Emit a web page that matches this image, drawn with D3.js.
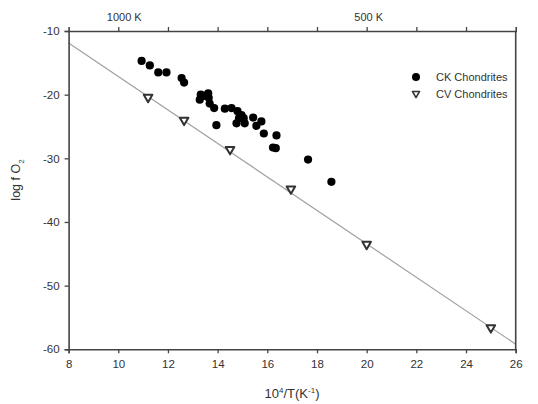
<!DOCTYPE html>
<html>
<head>
<meta charset="utf-8">
<script src="https://cdn.jsdelivr.net/npm/d3@7"></script>
<style>
  html, body { margin: 0; padding: 0; background: #fff; }
  svg { display: block; font-family: "Liberation Sans", Arial, sans-serif; }
</style>
</head>
<body>
<svg id="chart" width="538" height="404"></svg>
<script>
// ---- data ----
const ckX = [10.94, 11.27, 11.61, 11.94, 12.55, 12.65, 13.32, 13.62, 13.28, 13.64, 13.68, 13.86, 13.95, 14.29, 14.56, 14.80, 14.86, 14.76, 14.96, 15.09, 15.43, 15.76, 15.56, 15.86, 16.37, 16.23, 16.34, 17.64, 18.58, 13.45, 15.05];
const ckY = [-14.7, -15.4, -16.5, -16.5, -17.4, -18.1, -20.0, -19.8, -20.8, -20.5, -21.4, -22.1, -24.8, -22.2, -22.1, -22.6, -23.7, -24.5, -23.2, -24.5, -23.6, -24.2, -24.9, -26.1, -26.4, -28.3, -28.4, -30.2, -33.7, -20.2, -23.7];
const cvX = [11.2, 12.65, 14.5, 16.95, 20.0, 25.0];
const cvY = [-20.4, -24.0, -28.6, -34.8, -43.5, -56.6];
const lineX = [8, 26];
const lineY = [-11.9, -59.2];
const xTicks = [8, 10, 12, 14, 16, 18, 20, 22, 24, 26];
const yTicks = [-10, -20, -30, -40, -50, -60];
const topTemps = [1000, 500];
const topTickVals = [10, 12, 14, 16, 18, 20, 22, 24];
const legendLabels = ["CK Chondrites", "CV Chondrites"];

// ---- chart ----
const svg = d3.select("#chart");
const L = 68.6, R = 515.7, T = 31, B = 349.3;
const x = d3.scaleLinear().domain([8, 26]).range([L, R]);
const y = d3.scaleLinear().domain([-60, -10]).range([B, T]);
const axisColor = "#444";
const textColor = "#333";

// regression line
svg.append("line")
  .attr("x1", x(lineX[0])).attr("y1", y(lineY[0]))
  .attr("x2", x(lineX[1])).attr("y2", y(lineY[1]))
  .attr("stroke", "#a0a0a0").attr("stroke-width", 1.2);

// axes
const xAxis = svg.append("g").attr("transform", `translate(0,${B})`)
  .call(d3.axisBottom(x).tickValues(xTicks).tickSize(4).tickPadding(7));
const yAxis = svg.append("g").attr("transform", `translate(${L},0)`)
  .call(d3.axisLeft(y).tickValues(yTicks).tickSize(4).tickPadding(5));
const topAxis = svg.append("g").attr("transform", `translate(0,${T})`)
  .call(d3.axisTop(x).tickValues(topTickVals).tickSize(4).tickFormat(""));
xAxis.selectAll("text").text(d => String(d));
yAxis.selectAll("text").text(d => String(d));
[xAxis, yAxis, topAxis].forEach(g => {
  g.select(".domain").attr("stroke", axisColor).attr("stroke-width", 1.6);
  g.selectAll(".tick line").attr("stroke", axisColor).attr("stroke-width", 1.3);
  g.selectAll("text").attr("fill", textColor).attr("font-size", 11.5)
    .attr("font-family", "Liberation Sans, Arial, sans-serif");
});
// right border
svg.append("line").attr("x1", R).attr("x2", R).attr("y1", T).attr("y2", B)
  .attr("stroke", axisColor).attr("stroke-width", 1.6);

// top temperature labels
svg.selectAll("text.topLab").data(topTemps).enter().append("text")
  .attr("class", "topLab")
  .attr("x", (d, i) => x(1e4 / d) + (i === 0 ? 6 : 2))
  .attr("y", 21)
  .attr("text-anchor", "middle")
  .attr("font-size", 11).attr("fill", textColor)
  .text(d => d + " K");

// CK points
svg.append("g").selectAll("circle").data(ckX).enter().append("circle")
  .attr("cx", d => x(d)).attr("cy", (d, i) => y(ckY[i]))
  .attr("r", 4.1).attr("fill", "#000");

// CV points
const tri = d3.symbol().type(d3.symbolTriangle).size(32);
svg.append("g").selectAll("path").data(cvX).enter().append("path")
  .attr("d", tri)
  .attr("transform", (d, i) => `translate(${x(d)},${y(cvY[i])}) rotate(180)`)
  .attr("fill", "#fff").attr("stroke", "#333").attr("stroke-width", 2)
  .attr("stroke-linejoin", "round");

// legend
const lg = svg.append("g");
lg.append("circle").attr("cx", 416).attr("cy", 77).attr("r", 4).attr("fill", "#000");
lg.append("path").attr("d", d3.symbol().type(d3.symbolTriangle).size(22)).attr("transform", "translate(416,93.5) rotate(180)")
  .attr("fill", "#fff").attr("stroke", "#333").attr("stroke-width", 1.6)
  .attr("stroke-linejoin", "round");
lg.selectAll("text").data(legendLabels).enter().append("text")
  .attr("x", 436).attr("y", (d, i) => 81 + i * 16.5)
  .attr("font-size", 11).attr("fill", textColor).text(d => d);

// x axis title
const xt = svg.append("text").attr("x", 292).attr("y", 398)
  .attr("text-anchor", "middle").attr("font-size", 13).attr("fill", textColor);
xt.append("tspan").text("10");
xt.append("tspan").attr("dy", -5).attr("font-size", 8).text("4");
xt.append("tspan").attr("dy", 5).text("/T(K");
xt.append("tspan").attr("dy", -5).attr("font-size", 8).text("-1");
xt.append("tspan").attr("dy", 5).text(")");

// y axis title
const yt = svg.append("text").attr("transform", "translate(20,180) rotate(-90)")
  .attr("text-anchor", "middle").attr("font-size", 12.5).attr("fill", textColor);
yt.append("tspan").text("log f O");
yt.append("tspan").attr("dy", 4).attr("font-size", 8).text("2");
</script>
</body>
</html>
